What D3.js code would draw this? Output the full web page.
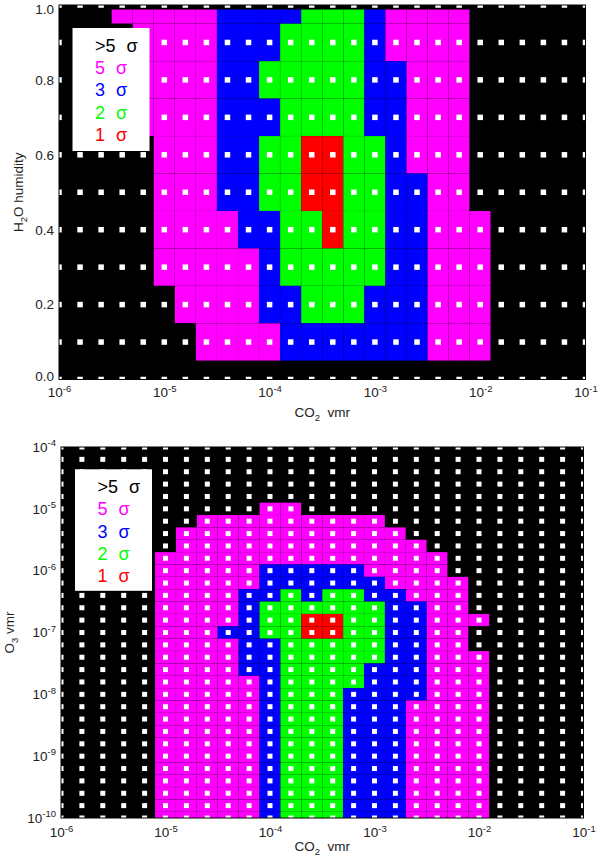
<!DOCTYPE html>
<html>
<head>
<meta charset="utf-8">
<script src="https://cdn.jsdelivr.net/npm/d3@7"></script>
<style>
  body { margin: 0; background: #fff; }
  svg { display: block; }
  text { font-family: "Liberation Sans", "DejaVu Sans", sans-serif; }
</style>
</head>
<body>
<div id="chart"></div>
<script>
/* DATA */
// log10 of the CO2 vmr at each grid column
const co2LogGrid = [-6.0, -5.8, -5.6, -5.4, -5.2, -5.0, -4.8, -4.6, -4.4, -4.2, -4.0, -3.8, -3.6,
  -3.4, -3.2, -3.0, -2.8, -2.6, -2.4, -2.2, -2.0, -1.8, -1.6, -1.4, -1.2, -1.0];

// H2O humidity rows, top to bottom
const h2oGrid = [1.0, 0.9, 0.8, 0.7, 0.6, 0.5, 0.4, 0.3, 0.2, 0.1, 0.0];

// log10 of the O3 vmr rows, top to bottom
const o3LogGrid = [-4.0, -4.2, -4.4, -4.6, -4.8, -5.0, -5.2, -5.4, -5.6, -5.8, -6.0, -6.2, -6.4,
  -6.6, -6.8, -7.0, -7.2, -7.4, -7.6, -7.8, -8.0, -8.2, -8.4, -8.6, -8.8, -9.0, -9.2, -9.4,
  -9.6, -9.8, -10.0];

// level of each cell: 0 = >5 sigma, 1 = 5 sigma, 2 = 3 sigma, 3 = 2 sigma, 4 = 1 sigma
const h2oLevels = [
  "00011111222233321111000000",
  "00001111222333321111000000",
  "00001111223333322111000000",
  "00001111222333322111000000",
  "00000111223344332111000000",
  "00000111223344332211000000",
  "00000111122334332211100000",
  "00000111112333332211100000",
  "00000011112233322211100000",
  "00000001111222222211100000",
  "00000000000000000000000000"
];

const o3Levels = [
  "00000000000000000000000000",
  "00000000000000000000000000",
  "00000000000000000000000000",
  "00000000000000000000000000",
  "00000000000000000000000000",
  "00000000001100000000000000",
  "00000001111111110000000000",
  "00000011111111111000000000",
  "00000011111111111100000000",
  "00000111111111111110000000",
  "00000111112222211110000000",
  "00000111112222221111000000",
  "00000111122323322111000000",
  "00000111123333332211000000",
  "00000111123344332211100000",
  "00000111223344332211000000",
  "00000111122333332211000000",
  "00000111122333332211100000",
  "00000111122333322211100000",
  "00000111112333322211100000",
  "00000111112333222211100000",
  "00000111112333222111100000",
  "00000111112333222111100000",
  "00000111112333222111100000",
  "00000111112333222111100000",
  "00000111112333222111100000",
  "00000111112333222111100000",
  "00000111112333222111100000",
  "00000111112333222111100000",
  "00000111112333222111100000",
  "00000111112333222111100000"
];

const sigmaLabels = [">5", "5", "3", "2", "1"];
const sigmaColors = ["#000000", "#ff00ff", "#0000ff", "#00ff00", "#ff0000"];

const co2Ticks = [1e-6, 1e-5, 1e-4, 1e-3, 1e-2, 1e-1];
const h2oTicks = [0, 0.2, 0.4, 0.6, 0.8, 1.0];
const o3Ticks = [1e-10, 1e-9, 1e-8, 1e-7, 1e-6, 1e-5, 1e-4];

/* LAYOUT */
const width = 600,
  height = 863;

const panels = [
  {
    name: "h2o",
    left: 59, right: 585.5, top: 5, bottom: 379.5,
    yLog: false, yDomain: [0, 1],
    rows: h2oGrid, levels: h2oLevels,
    yHalf: 0.05, yCellTop: 0.988,
    yTicks: h2oTicks,
    yTitle: ["H", "2", "O humidity"], yTitleX: 23,
    xLabelY: 397, xTitleY: 417,
    marker: 5.5,
    legend: { x: 72.5, y: 28, w: 77, h: 123 }
  },
  {
    name: "o3",
    left: 61, right: 583.5, top: 447, bottom: 818,
    yLog: true, yDomain: [1e-10, 1e-4],
    rows: o3LogGrid, levels: o3Levels,
    yHalf: 0.1, yCellTop: Infinity,
    yTicks: o3Ticks,
    yTitle: ["O", "3", " vmr"], yTitleX: 13.5,
    xLabelY: 837, xTitleY: 851,
    marker: 5,
    legend: { x: 75, y: 469.3, w: 77, h: 121.5 }
  }
];

const svg = d3.select("#chart")
  .append("svg")
  .attr("width", width)
  .attr("height", height);

// "10" with the exponent raised
function logLabel(text, d) {
  const e = Math.round(Math.log10(d));
  text.text(null);
  text.append("tspan").text("10");
  text.append("tspan").attr("dy", -5.5).attr("font-size", 9.5).text(e);
}

function drawPanel(p) {
  const xScale = d3.scaleLog()
    .domain([co2Ticks[0], co2Ticks[co2Ticks.length - 1]])
    .range([p.left, p.right]);
  const yScale = (p.yLog ? d3.scaleLog() : d3.scaleLinear())
    .domain(p.yDomain)
    .range([p.bottom, p.top]);
  const yVal = v => p.yLog ? Math.pow(10, v) : v;
  const xHalf = (co2LogGrid[1] - co2LogGrid[0]) / 2;

  const cells = [];
  p.levels.forEach((row, r) => {
    row.split("").forEach((c, i) => {
      cells.push({ xv: co2LogGrid[i], yv: p.rows[r], level: +c });
    });
  });

  const g = svg.append("g").attr("class", "panel " + p.name);

  g.append("clipPath")
    .attr("id", "clip-" + p.name)
    .append("rect")
    .attr("x", p.left)
    .attr("y", p.top)
    .attr("width", p.right - p.left)
    .attr("height", p.bottom - p.top);

  const plot = g.append("g").attr("clip-path", `url(#clip-${p.name})`);

  plot.append("rect")
    .attr("x", p.left)
    .attr("y", p.top)
    .attr("width", p.right - p.left)
    .attr("height", p.bottom - p.top)
    .attr("fill", "#000");

  plot.selectAll(".cell")
    .data(cells)
    .join("rect")
    .attr("class", "cell")
    .attr("x", d => xScale(Math.pow(10, d.xv - xHalf)))
    .attr("width", d => xScale(Math.pow(10, d.xv + xHalf)) - xScale(Math.pow(10, d.xv - xHalf)))
    .attr("y", d => yScale(yVal(Math.min(d.yv + p.yHalf, p.yCellTop))))
    .attr("height", d => yScale(yVal(d.yv - p.yHalf)) - yScale(yVal(Math.min(d.yv + p.yHalf, p.yCellTop))))
    .attr("fill", d => sigmaColors[d.level])
    .attr("stroke", "rgba(0,0,0,0.08)")
    .attr("stroke-width", 0.6);

  plot.selectAll(".marker")
    .data(cells)
    .join("rect")
    .attr("class", "marker")
    .attr("x", d => xScale(Math.pow(10, d.xv)) - p.marker / 2)
    .attr("y", d => yScale(yVal(d.yv)) - p.marker / 2)
    .attr("width", p.marker)
    .attr("height", p.marker)
    .attr("fill", "#fff");

  g.append("rect")
    .attr("x", p.left)
    .attr("y", p.top)
    .attr("width", p.right - p.left)
    .attr("height", p.bottom - p.top)
    .attr("fill", "none")
    .attr("stroke", "#000")
    .attr("stroke-width", 1);

  // x axis labels
  const xAxis = g.append("g")
    .attr("transform", `translate(0, ${p.bottom})`)
    .call(d3.axisBottom(xScale).tickValues(co2Ticks).tickSize(0).tickFormat(""))
    .attr("font-family", null)
    .attr("font-size", 13.5);
  xAxis.select(".domain").remove();
  xAxis.selectAll(".tick text")
    .attr("y", p.xLabelY - p.bottom)
    .attr("dy", null)
    .attr("fill", "#222")
    .each(function(d) { logLabel(d3.select(this), d); });

  // y axis labels; the end labels of the linear axis are nudged inward
  const yMin = p.yTicks[0],
    yMax = p.yTicks[p.yTicks.length - 1];
  const yAxis = g.append("g")
    .attr("transform", `translate(${p.left}, 0)`)
    .call(d3.axisLeft(yScale).tickValues(p.yTicks).tickSize(0).tickPadding(5)
      .tickFormat(p.yLog ? "" : d3.format(".1f")))
    .attr("font-family", null)
    .attr("font-size", 13.5);
  yAxis.select(".domain").remove();
  yAxis.selectAll(".tick text")
    .attr("dy", d => p.yLog ? "0.32em" : d === yMax ? "0.6em" : d === yMin ? "0.1em" : "0.32em")
    .attr("fill", "#222");
  if (p.yLog) {
    yAxis.selectAll(".tick text").each(function(d) { logLabel(d3.select(this), d); });
  }

  // axis titles
  const xTitle = g.append("text")
    .attr("x", (p.left + p.right) / 2)
    .attr("y", p.xTitleY)
    .attr("text-anchor", "middle")
    .attr("font-size", 13.5)
    .attr("fill", "#222");
  xTitle.append("tspan").text("CO");
  xTitle.append("tspan").attr("dy", 4).attr("font-size", 9.5).text("2");
  xTitle.append("tspan").attr("dy", -4).text("\u00a0 vmr");

  const yTitle = g.append("text")
    .attr("transform", `translate(${p.yTitleX}, ${(p.top + p.bottom) / 2}) rotate(-90)`)
    .attr("text-anchor", "middle")
    .attr("font-size", 13.5)
    .attr("fill", "#222");
  yTitle.append("tspan").text(p.yTitle[0]);
  yTitle.append("tspan").attr("dy", 4).attr("font-size", 9.5).text(p.yTitle[1]);
  yTitle.append("tspan").attr("dy", -4).text(p.yTitle[2]);

  // legend
  const legend = g.append("g")
    .attr("transform", `translate(${p.legend.x}, ${p.legend.y})`);
  legend.append("rect")
    .attr("width", p.legend.w)
    .attr("height", p.legend.h)
    .attr("fill", "#fff");
  legend.selectAll("text")
    .data(sigmaLabels)
    .join("text")
    .attr("x", 22.5)
    .attr("y", (d, i) => 23.5 + i * 22.4)
    .attr("font-size", 18)
    .attr("fill", (d, i) => sigmaColors[i])
    .each(function(d) {
      const t = d3.select(this);
      t.append("tspan").text(d);
      t.append("tspan").attr("dx", 11).text("\u03c3");
    });
}

panels.forEach(drawPanel);
</script>
</body>
</html>
